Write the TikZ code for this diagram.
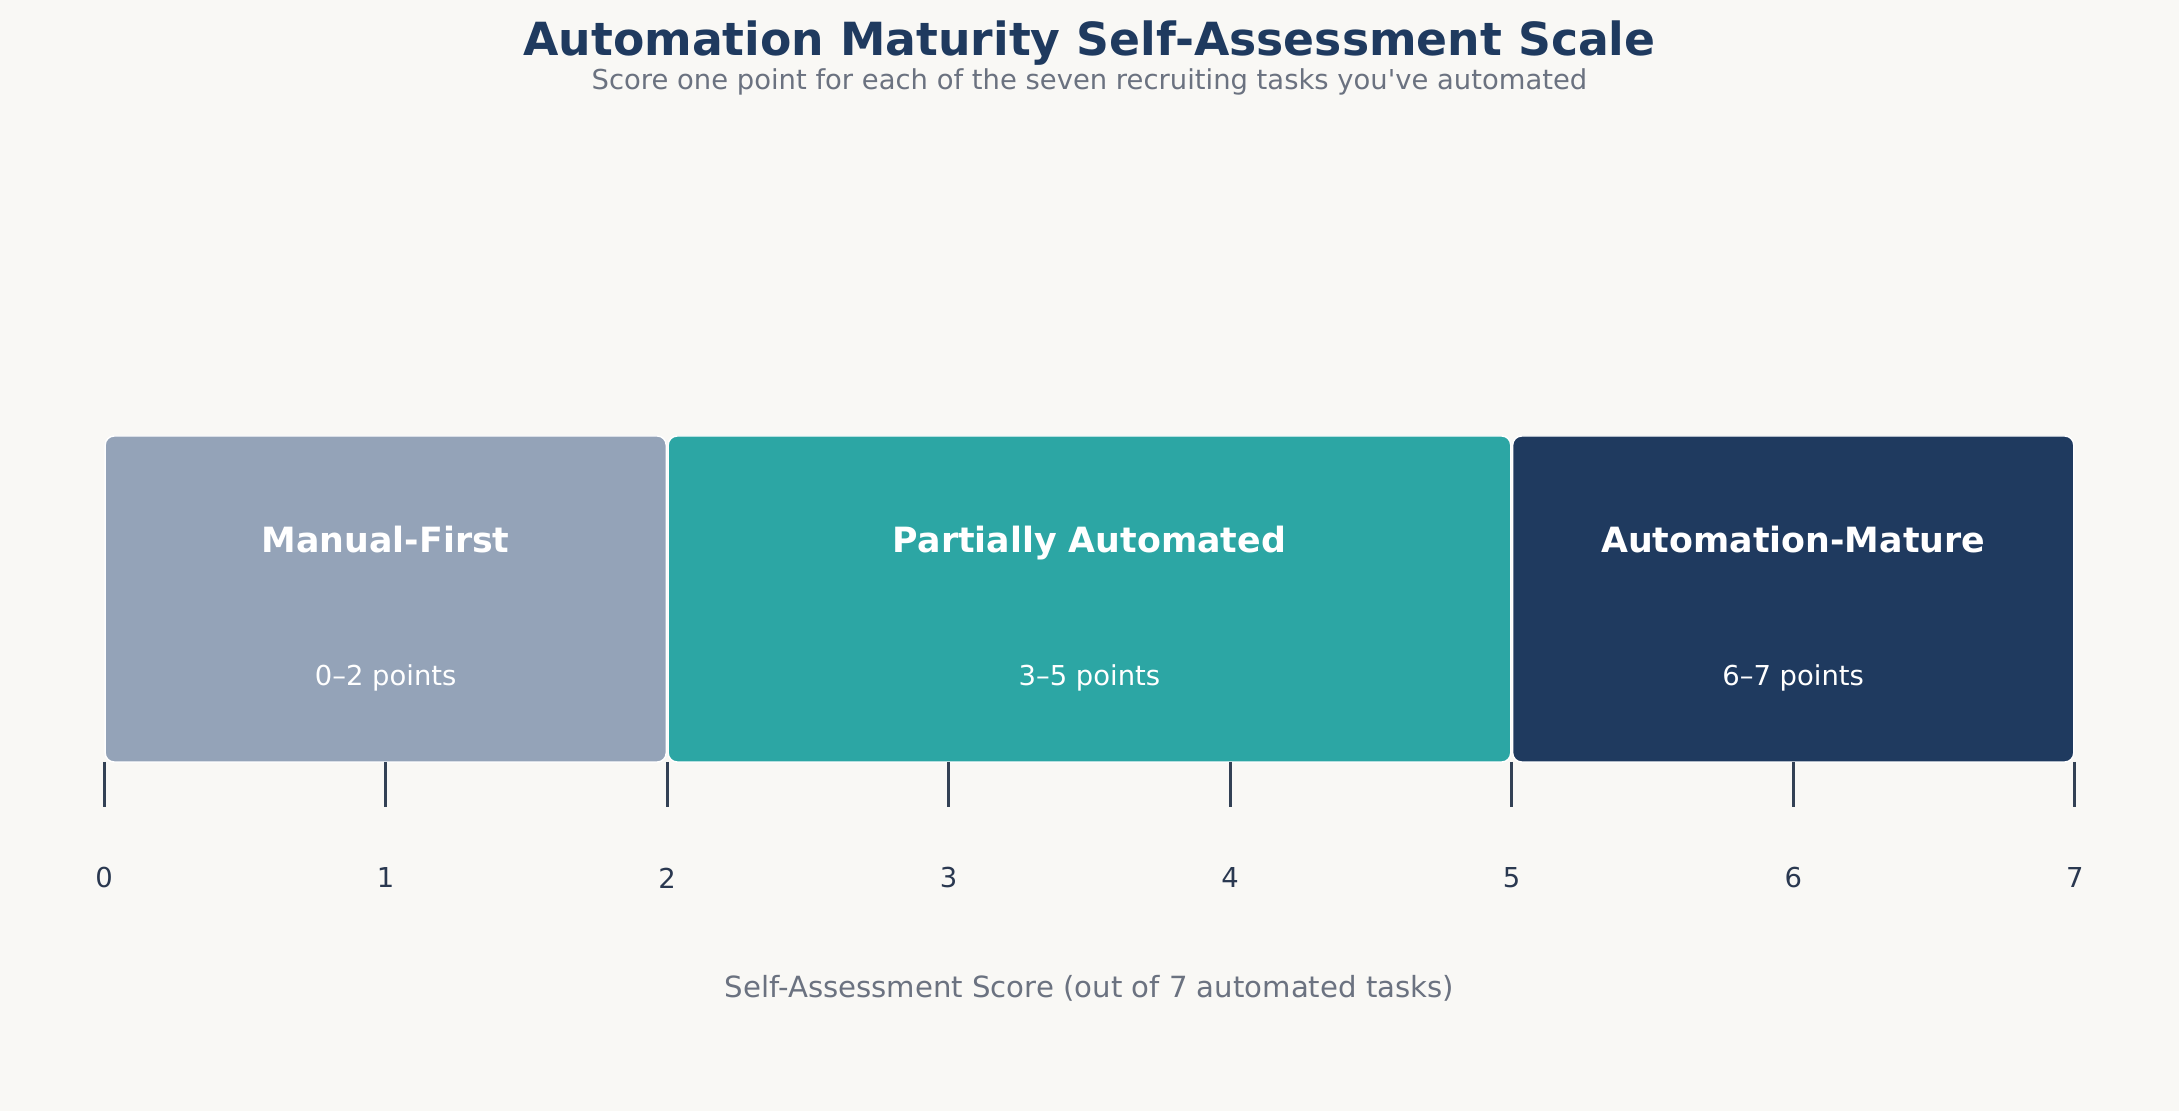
\documentclass[tikz,border=0pt]{standalone}
\usepackage{fontspec}
\setmainfont{DejaVu Sans}
\definecolor{bgcol}{HTML}{F9F8F5}
\definecolor{navy}{HTML}{1F3A5F}
\definecolor{slate}{HTML}{94A3B8}
\definecolor{teal}{HTML}{2CA6A4}
\definecolor{greytext}{HTML}{6B7280}
\definecolor{tickcol}{HTML}{334155}
\definecolor{numcol}{HTML}{2A3850}
\tikzset{
  band/.style={rounded corners=0.09cm, draw=white, line width=0.4pt, minimum height=3.26cm, inner sep=0pt},
  bandtitle/.style={text=white, text height=0.73em, text depth=0.24em, font=\fontsize{9.9}{12}\selectfont\bfseries},
  bandrange/.style={text=white, font=\fontsize{7.8}{9.5}\selectfont},
  tickmark/.style={draw=tickcol, line width=0.85pt},
  ticknum/.style={text=numcol, font=\fontsize{7.8}{9.5}\selectfont}
}
\begin{document}
\begin{tikzpicture}
  \fill[bgcol] (0,0) rectangle (21.79,11.11);
  \useasboundingbox (0,0) rectangle (21.79,11.11);

  % heading
  \node[text=navy, font=\fontsize{13}{15.5}\selectfont\bfseries] (title) at (10.895,10.68) {Automation Maturity Self-Assessment Scale};
  \node[text=greytext, font=\fontsize{7.8}{9.5}\selectfont] (subtitle) at (10.895,10.29) {Score one point for each of the seven recruiting tasks you\textquotesingle ve automated};

  % the three bands
  \node[band, fill=slate, minimum width=5.61cm] (manual) at (3.857,5.12) {};
  \node[band, fill=teal, minimum width=8.425cm] (partial) at (10.8945,5.12) {};
  \node[band, fill=navy, minimum width=5.61cm] (mature) at (17.932,5.12) {};

  \node[bandtitle] (manualname) at (3.857,5.67) {Manual-First};
  \node[bandrange] (manualpts) at (3.857,4.33) {0–2 points};
  \node[bandtitle] (partialname) at (10.8945,5.67) {Partially Automated};
  \node[bandrange] (partialpts) at (10.8945,4.33) {3–5 points};
  \node[bandtitle] (maturename) at (17.932,5.67) {Automation-Mature};
  \node[bandrange] (maturepts) at (17.932,4.33) {6–7 points};

  % score axis
  \foreach \k in {0,...,7} {
    \coordinate (top\k) at (1.042+2.815*\k,3.49);
    \coordinate (bot\k) at (1.042+2.815*\k,3.04);
    \draw[tickmark] (top\k) -- (bot\k);
    \node[ticknum] (num\k) at (1.042+2.815*\k,2.33) {\k};
  }

  \node[text=greytext, font=\fontsize{8.3}{10}\selectfont] (axislabel) at (10.895,1.23) {Self-Assessment Score (out of 7 automated tasks)};
\end{tikzpicture}
\end{document}
